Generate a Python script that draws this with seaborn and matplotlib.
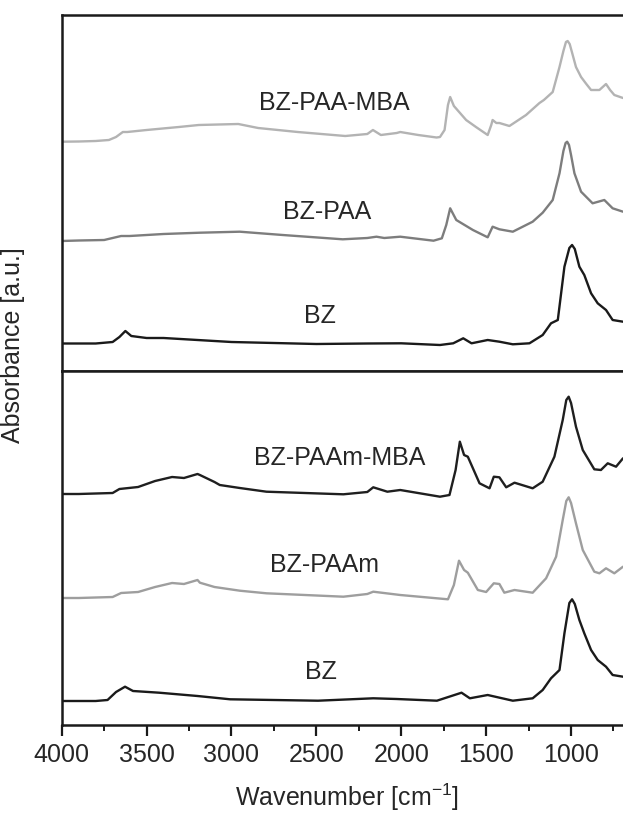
import matplotlib
matplotlib.use("Agg")
import matplotlib.pyplot as plt
import seaborn as sns
import numpy as np

# ---------------- data ----------------
# Upper panel (stacked absorbance, a.u.)
wn_bz_paa_mba = [4000, 3900, 3800, 3722, 3680, 3640, 3614, 3500, 3310, 3193, 2960, 2843, 2610,
                 2330, 2200, 2167, 2120, 2027, 2006, 1900, 1792, 1772, 1745, 1725, 1712, 1690,
                 1618, 1560, 1491, 1470, 1462, 1440, 1422, 1363, 1265, 1186, 1160, 1108, 1068,
                 1045, 1030, 1020, 1008, 995, 971, 941, 910, 882, 833, 794, 770, 745, 694]
ab_bz_paa_mba = [2.293, 2.295, 2.30, 2.31, 2.34, 2.39, 2.39, 2.41, 2.44, 2.46, 2.47, 2.43, 2.39,
                 2.35, 2.37, 2.41, 2.36, 2.38, 2.39, 2.36, 2.335, 2.34, 2.41, 2.66, 2.74, 2.65,
                 2.51, 2.44, 2.36, 2.46, 2.51, 2.48, 2.48, 2.45, 2.56, 2.68, 2.71, 2.79, 3.04,
                 3.20, 3.29, 3.30, 3.27, 3.19, 3.04, 2.94, 2.87, 2.81, 2.81, 2.87, 2.81, 2.76, 2.73]

wn_bz_paa = [4000, 3900, 3750, 3700, 3650, 3600, 3400, 3186, 2951, 2698, 2345, 2200, 2146, 2100,
             2006, 1810, 1761, 1735, 1712, 1676, 1578, 1491, 1462, 1422, 1343, 1226, 1167, 1108,
             1068, 1045, 1032, 1023, 1012, 1000, 980, 941, 873, 804, 755, 694]
ab_bz_paa = [1.30, 1.305, 1.31, 1.33, 1.35, 1.35, 1.37, 1.383, 1.393, 1.36, 1.317, 1.33, 1.343, 1.33,
             1.343, 1.303, 1.327, 1.46, 1.627, 1.51, 1.41, 1.337, 1.443, 1.417, 1.393, 1.493, 1.583, 1.71,
             1.977, 2.20, 2.28, 2.293, 2.26, 2.16, 1.977, 1.793, 1.677, 1.71, 1.627, 1.593]

wn_bz_top = [4000, 3800, 3700, 3660, 3625, 3590, 3500, 3400, 3200, 3000, 2500, 2200, 2000, 1772,
             1694, 1635, 1586, 1491, 1422, 1343, 1245, 1167, 1118, 1078, 1039, 1010, 994, 978, 951,
             922, 882, 843, 794, 755, 694]
ab_bz_top = [0.275, 0.275, 0.29, 0.34, 0.40, 0.35, 0.33, 0.33, 0.31, 0.29, 0.27, 0.275, 0.277, 0.26,
             0.277, 0.327, 0.277, 0.31, 0.293, 0.267, 0.277, 0.36, 0.477, 0.51, 1.043, 1.23, 1.26, 1.22,
             1.043, 0.96, 0.777, 0.677, 0.61, 0.51, 0.493]

# Lower panel
wn_bz_paam_mba = [4000, 3900, 3700, 3660, 3550, 3450, 3350, 3280, 3200, 3186, 3100, 3069, 2951, 2794,
                  2341, 2200, 2165, 2082, 2006, 1772, 1716, 1680, 1655, 1630, 1608, 1539, 1480, 1455,
                  1422, 1382, 1333, 1226, 1167, 1098, 1049, 1028, 1014, 1000, 971, 931, 863, 824, 784,
                  735, 694]
ab_bz_paam_mba = [2.31, 2.31, 2.32, 2.36, 2.38, 2.44, 2.48, 2.47, 2.51, 2.50, 2.43, 2.40, 2.37, 2.333,
                  2.307, 2.33, 2.377, 2.333, 2.35, 2.283, 2.30, 2.55, 2.833, 2.70, 2.683, 2.417, 2.367, 2.483,
                  2.477, 2.377, 2.423, 2.367, 2.433, 2.683, 3.05, 3.25, 3.283, 3.22, 2.983, 2.75, 2.557,
                  2.55, 2.617, 2.583, 2.667]

wn_bz_paam = [4000, 3900, 3700, 3650, 3550, 3450, 3350, 3280, 3200, 3186, 3100, 2951, 2794, 2341,
              2200, 2165, 2006, 1725, 1690, 1660, 1630, 1608, 1549, 1500, 1455, 1422, 1393, 1333,
              1226, 1147, 1088, 1049, 1028, 1014, 1000, 971, 931, 863, 833, 794, 745, 694]
ab_bz_paam = [1.27, 1.27, 1.28, 1.32, 1.33, 1.38, 1.42, 1.41, 1.45, 1.423, 1.38, 1.343, 1.317, 1.283,
              1.31, 1.333, 1.30, 1.257, 1.40, 1.643, 1.55, 1.523, 1.35, 1.33, 1.417, 1.41, 1.323, 1.35,
              1.323, 1.467, 1.683, 2.05, 2.24, 2.277, 2.22, 2.017, 1.75, 1.533, 1.517, 1.567, 1.517, 1.583]

wn_bz_bot = [4000, 3800, 3730, 3680, 3627, 3580, 3426, 3200, 3008, 2490, 2165, 2027, 1790, 1645,
             1596, 1491, 1343, 1226, 1167, 1118, 1068, 1039, 1010, 994, 978, 951, 922, 882, 843, 794,
             755, 694]
ab_bz_bot = [0.24, 0.24, 0.25, 0.33, 0.383, 0.34, 0.323, 0.29, 0.257, 0.243, 0.267, 0.26, 0.243, 0.323,
             0.267, 0.30, 0.243, 0.267, 0.35, 0.467, 0.55, 0.917, 1.22, 1.257, 1.21, 1.05, 0.917, 0.75,
             0.65, 0.583, 0.50, 0.483]

top_labels = ["BZ-PAA-MBA", "BZ-PAA", "BZ"]
bottom_labels = ["BZ-PAAm-MBA", "BZ-PAAm", "BZ"]
x_ticks = [4000, 3500, 3000, 2500, 2000, 1500, 1000]

# ---------------- styling ----------------
sns.set_style("ticks")
plt.rcParams['font.family'] = ['Liberation Sans', 'DejaVu Sans']
plt.rcParams['mathtext.fontset'] = 'custom'
plt.rcParams['mathtext.rm'] = 'Liberation Sans'
plt.rcParams['mathtext.it'] = 'Liberation Sans'

FS = 18
TXT = '#262626'
fig = plt.figure(figsize=(6.23, 8.16), dpi=100)
L = 61.7 / 623
ax_top = fig.add_axes([L, (816 - 371) / 816, 1 - L, (371 - 15) / 816])
ax_bot = fig.add_axes([L, (816 - 725) / 816, 1 - L, (725 - 371) / 816])

top_series = [(wn_bz_paa_mba, ab_bz_paa_mba, '#b3b3b3'),
              (wn_bz_paa, ab_bz_paa, '#7d7d7d'),
              (wn_bz_top, ab_bz_top, '#1a1a1a')]
bot_series = [(wn_bz_paam_mba, ab_bz_paam_mba, '#1f1f1f'),
              (wn_bz_paam, ab_bz_paam, '#9e9e9e'),
              (wn_bz_bot, ab_bz_bot, '#1a1a1a')]

for ax, series in ((ax_top, top_series), (ax_bot, bot_series)):
    for wn, ab, col in series:
        sns.lineplot(x=wn, y=ab, ax=ax, color=col, linewidth=1.7, estimator=None, sort=False)
    ax.set_xlim(4000, 694)
    ax.set_yticks([])
    ax.set_ylabel('')
    for s in ('left', 'top', 'bottom'):
        ax.spines[s].set_linewidth(1.8)
        ax.spines[s].set_color('#1a1a1a')
    ax.spines['right'].set_visible(False)

ax_top.set_ylim(0, 3.56)
ax_bot.set_ylim(0, 3.54)

ax_top.tick_params(axis='x', which='both', bottom=False, labelbottom=False)
ax_bot.set_xticks(x_ticks)
ax_bot.set_xticklabels([str(t) for t in x_ticks])
ax_bot.set_xticks([3750, 3250, 2750, 2250, 1750, 1250, 750], minor=True)
ax_bot.tick_params(axis='x', which='major', direction='out', length=8, width=1.6,
                   labelsize=FS, labelcolor=TXT, pad=5, color='#1a1a1a')
ax_bot.tick_params(axis='x', which='minor', direction='out', length=4, width=1.4, color='#1a1a1a')

# curve labels
top_pos = [(2392, 2.68), (2439, 1.59), (2481, 0.55)]
bot_pos = [(2363, 2.67), (2451, 1.60), (2475, 0.53)]
for ax, labels, pos in ((ax_top, top_labels, top_pos), (ax_bot, bottom_labels, bot_pos)):
    for lab, (x, y) in zip(labels, pos):
        ax.text(x, y, lab, ha='center', va='center', fontsize=FS, color=TXT)

fig.text(347 / 623, 1 - 797 / 816, r'Wavenumber [cm$^{\mathregular{-1}}$]', ha='center', va='center',
         fontsize=FS, color=TXT)
fig.text(13 / 623, 1 - 345 / 816, 'Absorbance [a.u.]', ha='center', va='center', rotation=90,
         fontsize=FS, color=TXT)

fig.savefig('out.png', dpi=100)
